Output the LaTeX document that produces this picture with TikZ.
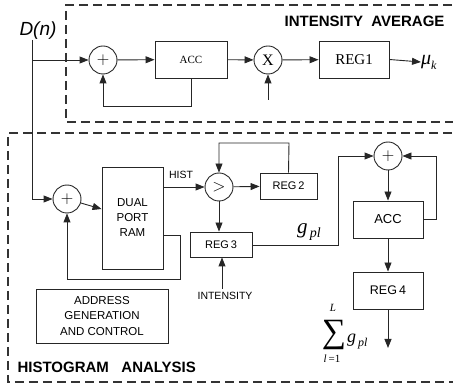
\documentclass[tikz,border=0pt]{standalone}
\usepackage{fontspec}
\setmainfont{Liberation Serif}
\setsansfont{Liberation Sans}
\usetikzlibrary{arrows.meta}
\begin{document}
\begin{tikzpicture}[x=1pt,y=-1pt,
  wire/.style={line width=0.9pt,draw=black!85},
  flow/.style={wire,-{Triangle[length=9pt,width=7pt]}},
  frame/.style={line width=1.2pt,draw=black!80,dash pattern=on 9pt off 5pt},
  blk/.style={draw=black!85,line width=0.9pt,rectangle,inner sep=1pt,align=center},
  op/.style={draw=black!85,line width=0.9pt,circle,minimum size=28pt,inner sep=0pt},
  sanslbl/.style={font=\sffamily\fontsize{11}{13}\selectfont},
  title/.style={font=\sffamily\bfseries\fontsize{15}{17}\selectfont}]
\useasboundingbox (0,0) rectangle (453,387);
\clip (0,0) rectangle (453,387);

% section frames
\draw[frame] (480,5) -- (66,5) -- (66,122) -- (480,122);
\draw[frame] (480,133) -- (8,133) -- (8,382) -- (480,382);
\node[title,anchor=east] (ttl1) at (448,21) {INTENSITY\ \ AVERAGE};
\node[title,anchor=west] (ttl2) at (14,367) {HISTOGRAM\ \ \ ANALYSIS};

% input
\node[font=\sffamily\itshape\fontsize{19}{22}\selectfont] (din) at (38,31) {D(n)};
\coordinate (dtop) at (32,40);
\coordinate (dsplit) at (32,60);
\coordinate (dlow) at (32,199);

% intensity average path
\node[op] (sum1) at (103,60) {\fontsize{16}{16}\selectfont$+$};
\node[blk,minimum width=72pt,minimum height=37pt,font=\fontsize{11}{13}\selectfont] (acc1) at (191,59.5) {ACC};
\node[op] (mul) at (268,60) {\fontsize{16}{16}\selectfont X};
\node[blk,minimum width=70pt,minimum height=37pt,font=\fontsize{15}{17}\selectfont] (reg1) at (354,59.5) {REG1};
\node[anchor=west,inner sep=0pt] (mu) at (421,62) {\fontsize{20}{22}\selectfont\textit{μ}\raisebox{-5pt}{\fontsize{12}{14}\selectfont\textit{k}}};
\coordinate (mulin) at (268,100);

\draw[wire] (dtop) -- (dlow);
\draw[flow] (dsplit) -- (sum1);
\draw[flow] (sum1) -- (acc1);
\draw[flow] (acc1) -- (mul);
\draw[flow] (mul) -- (reg1);
\draw[flow] (reg1.east) -- (mu.west);
\draw[flow] (mulin) -- (mul);
\draw[flow] (acc1.south) -- ++(0,28) -| (sum1.south);

% histogram analysis path
\node[op] (sum2) at (67,199) {\fontsize{16}{16}\selectfont$+$};
\node[blk,minimum width=61pt,minimum height=102pt,font=\sffamily\fontsize{11.5}{15}\selectfont] (ram) at (132.5,218) {DUAL\\PORT\\RAM};
\node[op] (cmp) at (219,187) {\fontsize{16}{16}\selectfont$>$};
\node[blk,minimum width=57pt,minimum height=26pt,sanslbl] (reg2) at (288.5,186) {REG\,2};
\node[blk,minimum width=62pt,minimum height=25pt,sanslbl] (reg3) at (221,244.5) {REG\,3};
\node[font=\sffamily\fontsize{10.5}{12}\selectfont] (inten) at (225,296) {INTENSITY};
\node[font=\sffamily\fontsize{10.5}{12}\selectfont] (hist) at (181,175) {HIST};
\node[op] (sum3) at (388,156) {\fontsize{16}{16}\selectfont$+$};
\node[blk,minimum width=70pt,minimum height=37pt,font=\sffamily\fontsize{13}{15}\selectfont] (acc2) at (388,219.5) {ACC};
\node[blk,minimum width=70pt,minimum height=37pt,font=\sffamily\fontsize{12.5}{15}\selectfont] (reg4) at (388,290.5) {REG\,4};
\node[blk,minimum width=132pt,minimum height=54pt,font=\sffamily\fontsize{11.5}{15.5}\selectfont] (addr) at (102,316) {ADDRESS\\GENERATION\\AND CONTROL};
\node[inner sep=0pt] (gpl) at (309,232) {\fontsize{21}{22}\selectfont\textit{g}\raisebox{-4pt}{\fontsize{14}{15}\selectfont\,\textit{pl}}};

% summation label: sigma with its limits, then the summand
\node[inner sep=0pt,font=\fontsize{34}{34}\selectfont] (sigma) at (334,335) {∑};
\node[inner sep=0pt,font=\itshape\fontsize{11}{12}\selectfont] (suptop) at (333,308) {L};
\node[inner sep=0pt,font=\fontsize{11}{12}\selectfont] (subbot) at (332,359) {\textit{l}\,=1};
\node[inner sep=0pt,anchor=base west] (summand) at (347,343) {\fontsize{18}{20}\selectfont\textit{g}\raisebox{-4pt}{\fontsize{12}{14}\selectfont\,\textit{pl}}};

\coordinate (intin) at (222,289);
\coordinate (out) at (388,348);

\draw[flow] (dlow) -- (sum2);
\draw[flow] (sum2) -- (ram);
\draw[flow] (ram.east |- cmp) -- (cmp);
\draw[flow] (ram.east |- 0,235) -- (180,235) -- (180,279) -| (sum2.south);
\draw[flow] (cmp) -- (reg2);
\draw[flow] (reg2.north) -- (289,143) -| (cmp.north);
\draw[flow] (cmp.south) -- (reg3.north -| cmp);
\draw[flow] (intin) -- (intin |- reg3.south);
\draw[flow] (reg3.east |- 0,245) -- (338,245) |- (sum3.west);
\draw[flow] (sum3) -- (acc2);
\draw[flow] (acc2.east) -- (436,219.5) |- (sum3.east);
\draw[flow] (acc2) -- (reg4);
\draw[flow] (reg4) -- (out);
\end{tikzpicture}
\end{document}
